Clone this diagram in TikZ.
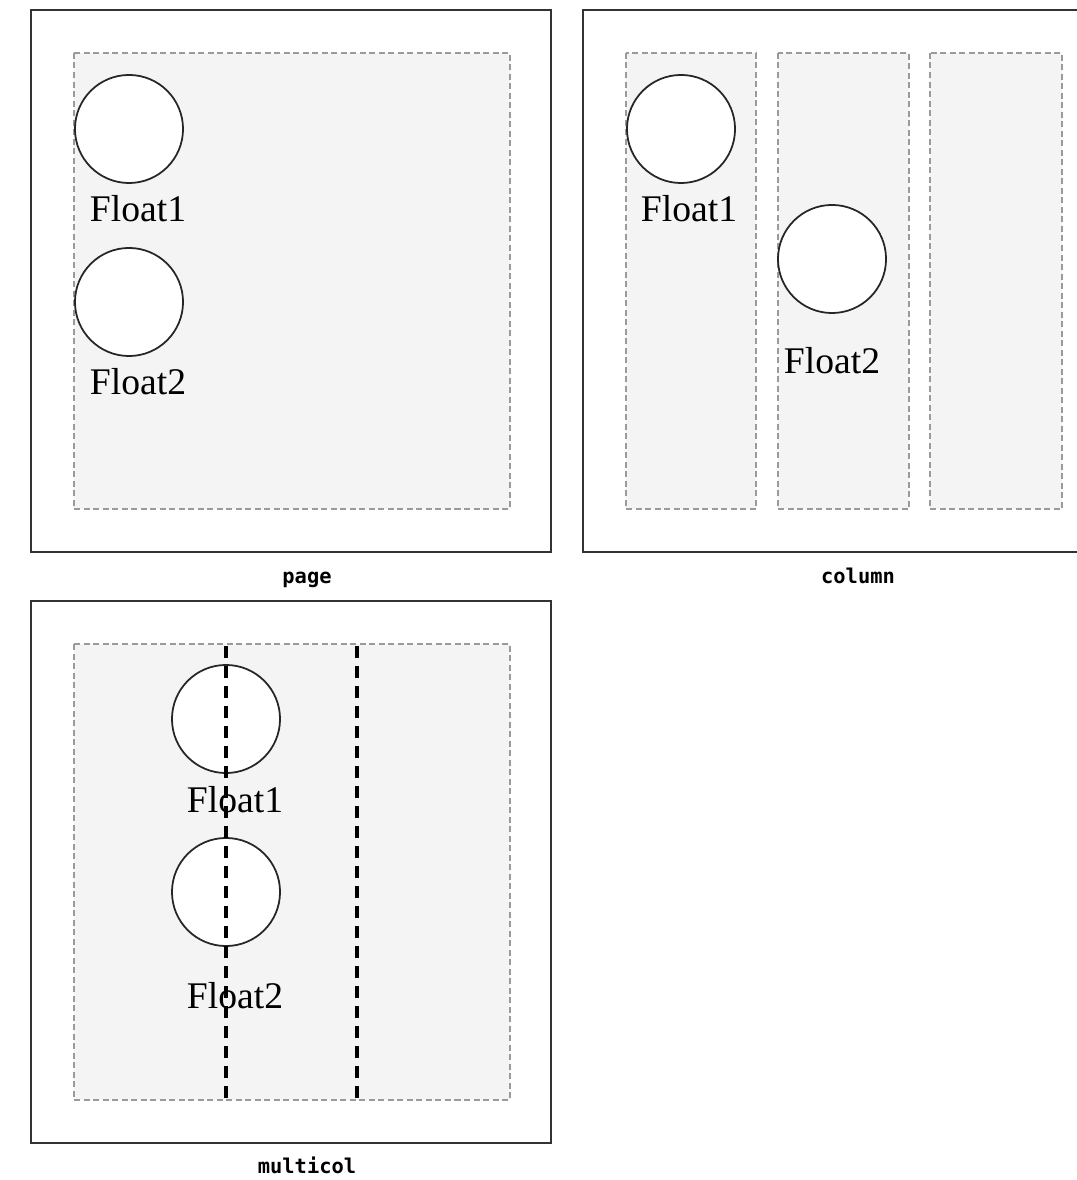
\documentclass[tikz,border=0pt]{standalone}
\usepackage{fontspec}
\setmainfont{Liberation Serif}
\setmonofont{DejaVu Sans Mono}
\usepackage{xcolor}
\usepackage{tikz}
\definecolor{pagegray}{HTML}{F4F4F4}
\definecolor{dashgray}{HTML}{9A9A9A}
\definecolor{framegray}{HTML}{333333}
\def\floatfont{\fontsize{10.7}{12}\selectfont}
\def\capfont{\fontsize{5.8}{7}\selectfont\ttfamily\bfseries}

\begin{document}
\begin{tikzpicture}[x=0.01cm,y=-0.01cm,
	frame/.style={draw=framegray,line width=0.45pt},
	area/.style={draw=dashgray,fill=pagegray,line width=0.55pt,dash pattern=on 0.06cm off 0.035cm},
	floatc/.style={circle,draw=black!85,fill=white,line width=0.5pt,minimum size=1.08cm,inner sep=0pt},
	floatlbl/.style={inner sep=0pt,font=\floatfont},
	caplbl/.style={inner sep=0pt,anchor=base,font=\capfont},
	colrule/.style={line width=0.95pt,dash pattern=on 0.12cm off 0.08cm}]
					\useasboundingbox (0,0) rectangle (1076,1180);
					% page
					\draw[frame] (31,10) rectangle (551,552);
					\draw[area] (74,53) rectangle (510,509);
					\node[floatc] (pgfa) at (129,129) {};
					\node[floatlbl] (pgfatext) at (138,209) {Float1};
					\node[floatc] (pgfb) at (129,302) {};
					\node[floatlbl] (pgfbtext) at (138,382) {Float2};
					\node[caplbl] (pagecap) at (307,583) {page};
					% column
					\draw[frame] (583,10) rectangle (1090,552);
					\draw[area] (626,53) rectangle (756,509);
					\draw[area] (778,53) rectangle (909,509);
					\draw[area] (930,53) rectangle (1062,509);
					\node[floatc] (colfa) at (681,129) {};
					\node[floatlbl] (colfatext) at (689,209) {Float1};
					\node[floatc] (colfb) at (832,259) {};
					\node[floatlbl] (colfbtext) at (832,361) {Float2};
					\node[caplbl] (colcap) at (858,583) {column};
					% multicol
					\draw[frame] (31,601) rectangle (551,1143);
					\draw[area] (74,644) rectangle (510,1100);
					\node[floatc] (mcfa) at (226,719) {};
					\node[floatlbl] (mcfatext) at (235,800) {Float1};
					\node[floatc] (mcfb) at (226,892) {};
					\node[floatlbl] (mcfbtext) at (235,996) {Float2};
					\draw[colrule] (226,646)--(226,1100);
					\draw[colrule] (357,646)--(357,1100);
					\node[caplbl] (mccap) at (307,1173) {multicol};
				\end{tikzpicture}
\end{document}
